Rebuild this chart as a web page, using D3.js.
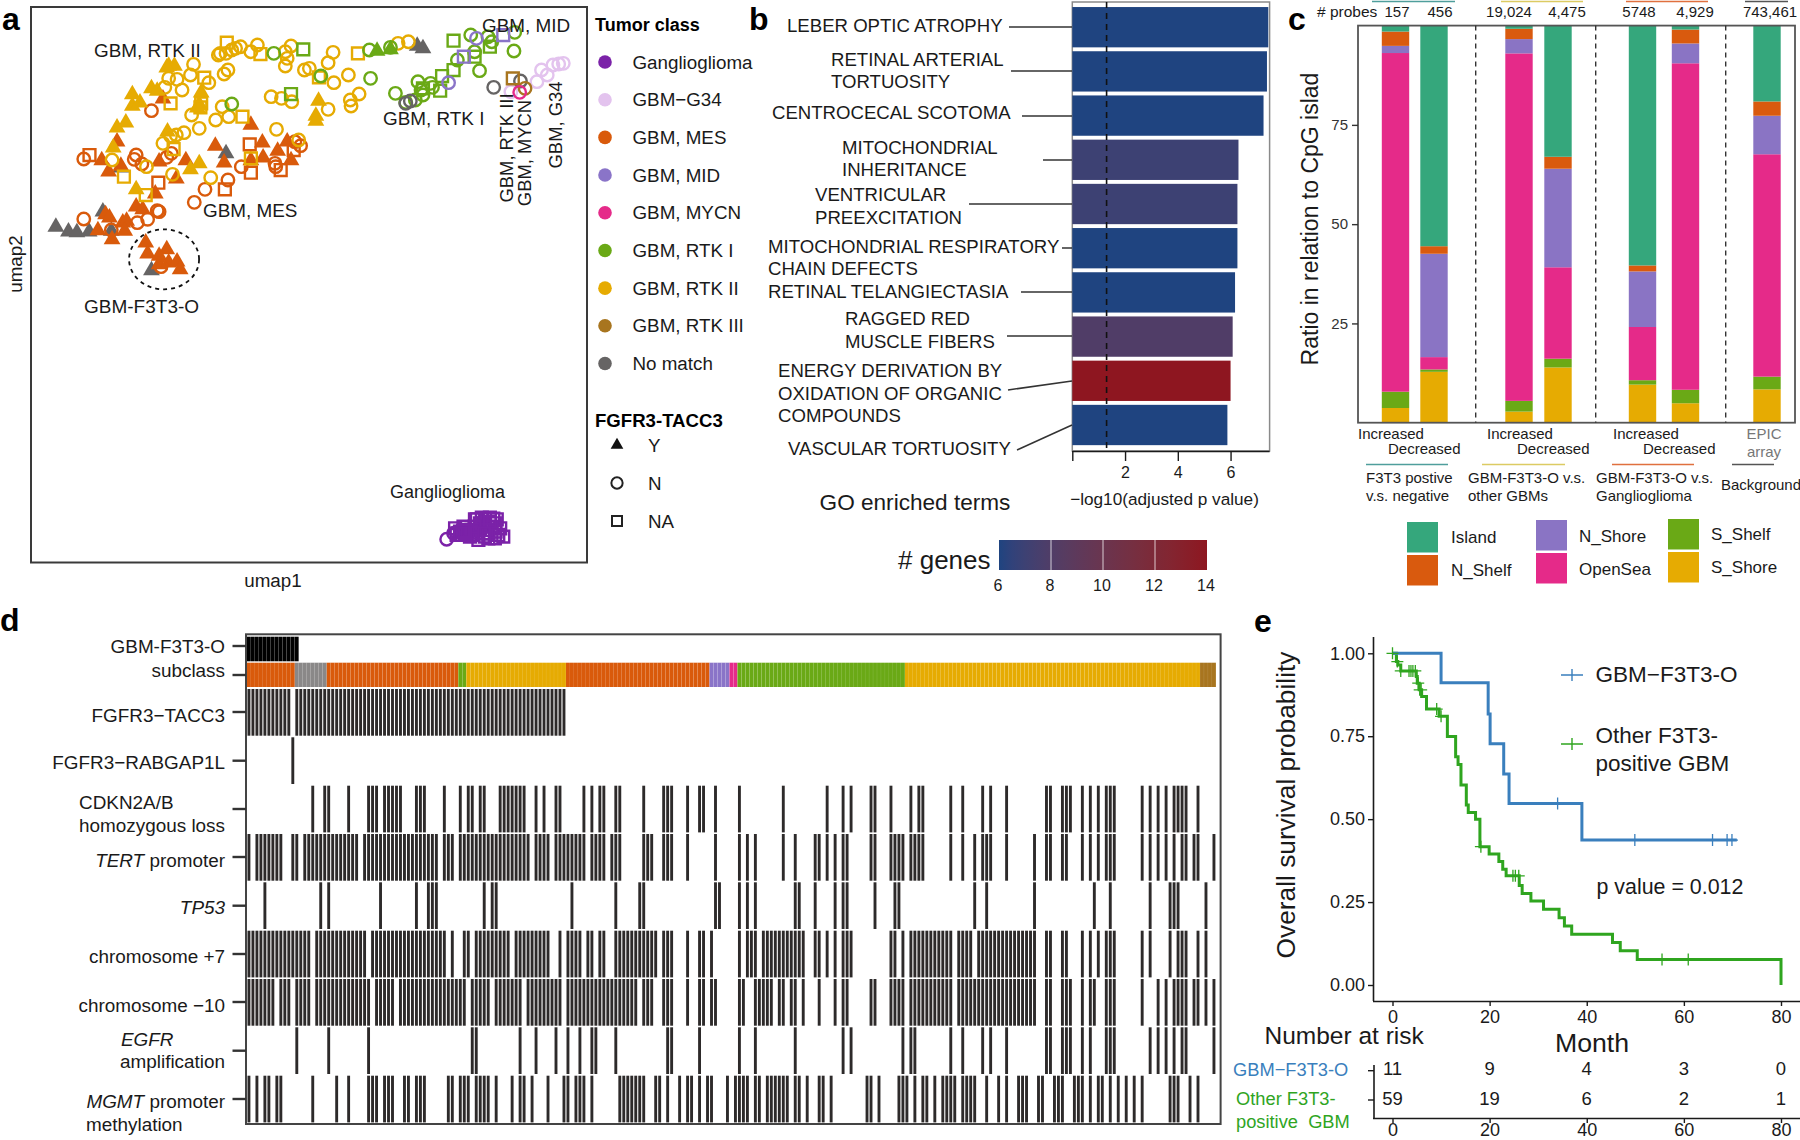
<!DOCTYPE html>
<html><head><meta charset="utf-8">
<style>html,body{margin:0;padding:0;background:#fff}svg{display:block}text{font-family:"Liberation Sans",Arial,sans-serif;fill:#1a1a1a}</style>
<script src="https://d3js.org/d3.v7.min.js"></script></head><body>
<svg id="c" width="1800" height="1140"></svg>
<script>
// ---------- DATA: panel a (umap values, arbitrary units) ----------
const tumorClasses=["Ganglioglioma","GBM−G34","GBM, MES","GBM, MID","GBM, MYCN","GBM, RTK I","GBM, RTK II","GBM, RTK III","No match"];
const fusionLevels=["Y","N","NA"];
const ggCircle=[[1167,1618],[1185,1600]];
const ggSquare=[[1189,1585],[1211,1580],[1232,1590],[1246,1558],[1267,1556],[1289,1556],[1293,1570],[1307,1585],[1254,1590],[1276,1600],[1315,1610],[1293,1615],[1267,1610],[1250,1620],[1228,1610],[1206,1605],[1193,1605],[1215,1590],[1237,1605],[1263,1570],[1285,1580],[1254,1570],[1202,1595],[1302,1605],[1276,1615],[1241,1558],[1280,1553],[1259,1553],[1298,1558],[1222,1598],[1245,1598],[1270,1590],[1295,1595],[1240,1580],[1215,1600],[1280,1565],[1265,1600],[1210,1593]];
const g34Circle=[[1335,275],[1403,245],[1415,210],[1430,225],[1445,195],[1460,192],[1472,190]];
const mesTri=[[305,422],[265,478],[283,512],[315,495],[415,482],[485,478],[460,533],[405,578],[355,617],[372,625],[562,435],[585,485],[655,372],[685,425],[687,470],[725,450],[750,422],[760,478],[655,478],[425,293],[275,640],[285,650],[255,688],[320,665],[330,660],[325,690],[292,715],[380,725],[385,758],[435,745],[415,765],[415,790],[440,785],[462,782],[470,805]];
const mesCircle=[[395,332],[218,477],[355,465],[350,478],[370,492],[447,460],[435,472],[630,500],[595,540],[535,568],[507,607],[718,490],[720,500],[770,425],[785,437],[410,632],[385,658],[358,668],[218,657],[290,690],[420,800],[415,635]];
const mesSquare=[[233,465],[413,548],[587,568],[652,433],[655,518],[733,510],[767,450]];
const midCircle=[[1245,115],[1172,248]];
const midSquare=[[1315,105],[1212,170]];
const mycnCircle=[[1358,277]];
const rtk1Tri=[[985,150],[1020,145]];
const rtk1Circle=[[715,160],[838,228],[605,312],[965,150],[968,235],[1020,142],[1230,105],[1275,110],[1285,125],[1345,97],[1343,153],[1253,212],[1240,155],[1195,180],[1033,280],[1092,245],[1125,250],[1130,262],[1100,270],[1085,300],[1105,285],[1060,307]];
const rtk1Square=[[792,148],[760,282],[1185,122],[1280,140],[1240,170],[1185,210],[1155,228],[1150,272],[1105,265]];
const rtk2Tri=[[440,195],[455,195],[435,200],[345,280],[395,262],[410,270],[345,315],[365,305],[305,380],[328,365],[295,440],[437,392],[520,310],[525,275],[515,320],[832,300],[825,345],[825,360],[520,487],[497,505],[355,565]];
const rtk2Circle=[[505,193],[497,225],[440,235],[462,238],[430,262],[475,270],[545,248],[585,222],[595,210],[570,165],[590,160],[605,150],[628,140],[672,135],[655,155],[745,155],[760,138],[750,175],[745,198],[795,210],[808,205],[857,188],[870,157],[872,248],[910,225],[938,282],[915,300],[917,318],[857,328],[708,290],[735,295],[762,305],[580,320],[500,345],[563,360],[597,350],[520,385],[722,388],[480,398],[460,405],[445,408],[425,430],[780,420],[292,480],[382,500],[450,523],[550,533],[1040,130],[1067,125],[575,160],[615,145]];
const rtk2Square=[[592,128],[680,162],[533,233],[833,232],[445,310],[525,310],[523,322],[633,350],[453,447],[655,475],[323,530],[380,585],[935,160]];
const rtk3Circle=[[1372,265]];
const rtk3Square=[[1340,235]];
const noneTri=[[1090,135],[1105,142],[590,457],[145,678],[178,692],[200,694],[232,692],[268,632],[290,690],[395,808],[315,500]];
const noneCircle=[[1060,310],[1072,303],[1290,262],[1360,243]];
const umapLabels=["GBM, RTK II","GBM, MID","GBM, RTK I","GBM, MES","GBM-F3T3-O","Ganglioglioma"];
const umapLabelsVertical=["GBM, RTK III","GBM, MYCN","GBM,  G34"];

// ---------- DATA: panel b ----------
const goTerms=[["LEBER OPTIC ATROPHY"],["RETINAL ARTERIAL","TORTUOSITY"],["CENTROCECAL SCOTOMA"],["MITOCHONDRIAL","INHERITANCE"],["VENTRICULAR","PREEXCITATION"],["MITOCHONDRIAL RESPIRATORY","CHAIN DEFECTS"],["RETINAL TELANGIECTASIA"],["RAGGED RED","MUSCLE FIBERS"],["ENERGY DERIVATION BY","OXIDATION OF ORGANIC","COMPOUNDS"],["VASCULAR TORTUOSITY"]];
const goLogP=[7.43,7.38,7.25,6.30,6.26,6.26,6.17,6.08,6.00,5.88];
const goGenes=[6,6,6,7,7,6,6,8,14,6];
const goThreshold=1.3;
const goTicks=[2,4,6];
const geneTicks=[6,8,10,12,14];

// ---------- DATA: panel c ----------
const regions=["Island","N_Shelf","N_Shore","OpenSea","S_Shelf","S_Shore"];
const probeBars=["F3T3 up","F3T3 down","Others up","Others down","Gang up","Gang down","EPIC"];
const probeCounts=["157","456","19,024","4,475","5748","4,929","743,461"];
const islandPct=[1.5,55.5,0.8,33,60.4,1,19.1];
const nShelfPct=[3.6,1.9,2.6,3,1.5,3.5,3.6];
const nShorePct=[1.8,26,3.6,24.8,14,5,9.7];
const openSeaPct=[85.2,3.1,87.6,23,13.4,82.3,56];
const sShelfPct=[4.1,0.6,2.7,2.2,1.1,3.4,3.2];
const sShorePct=[3.7,12.8,2.8,13.9,9.6,4.9,8.4];
const ratioTicks=[25,50,75];

// ---------- DATA: panel d (sample indices with runs) ----------
const sampleCount=243;
const subclassRuns=[["GBM, MES",0,11],["No match",12,19],["GBM, MES",20,52],["GBM, RTK I",53,54],["GBM, RTK II",55,79],["GBM, MES",80,115],["GBM, MID",116,120],["GBM, MYCN",121,122],["GBM, RTK I",123,164],["GBM, RTK II",165,238],["GBM, RTK III",239,242]];
const f3t3o=[[0,12]];
const tacc3=[[0,10],[12,79]];
const rabgap=[11];
const cdkn=[16,19,20,25,[30,32],[34,38],[42,44],49,53,55,56,58,59,[63,69],72,74,77,78,84,86,88,89,92,93,99,[104,106],110,113,114,117,123,134,145,149,151,156,157,161,166,168,169,176,179,184,186,190,200,201,[204,206],209,211,213,[215,217],224,226,228,230,[232,235],238];
const tert=[0,[2,8],11,12,[14,27],[29,47],[49,51],[53,70],[72,75],[77,84],[86,89],[91,93],[99,101],[104,106],110,117,123,125,127,134,137,142,143,145,147,149,150,156,157,[161,164],[166,169],176,179,182,[184,186],190,197,200,201,204,205,209,211,213,[215,217],224,226,228,230,232,234,235,237,238,242];
const tp53=[4,18,20,33,42,[45,47],59,61,62,81,92,98,99,117,118,123,125,127,137,138,142,147,149,150,157,162,163,182,185,197,212,216,226,[231,233],240];
const chr7=[[0,15],[17,29],[31,49],51,54,55,[57,65],[67,75],78,[80,83],85,86,88,89,[92,102],[104,106],110,113,114,116,123,[125,127],[129,139],142,143,145,147,[149,151],161,162,164,[166,176],[178,181],[183,197],200,201,204,205,209,211,213,[215,217],224,226,231,[233,235],238,240];
const chr10=[[0,6],[8,10],[12,15],[17,30],[32,36],[38,54],[56,60],[62,68],[70,78],[80,97],[99,101],[104,106],110,113,114,116,117,123,124,[127,131],133,134,136,137,139,143,147,149,150,156,157,[161,164],[166,176],[178,197],200,201,[204,206],209,211,212,[215,217],224,228,230,[232,235],237,238,240,242];
const egfr=[12,20,30,56,57,68,72,77,80,83,86,87,92,105,106,113,123,127,137,149,151,164,166,167,176,179,184,186,190,200,201,[204,206],209,211,[215,217],226,228,230,232,234,235,242];
const mgmt=[0,2,4,5,7,8,16,22,25,[30,32],[34,36],39,40,[42,44],50,51,53,54,55,[57,60],62,66,68,69,71,75,79,80,[82,84],86,[93,97],98,99,102,103,105,108,110,111,113,115,116,120,[122,125],127,128,[130,135],137,138,140,143,144,146,155,156,158,[163,165],167,169,170,172,[174,177],[179,182],185,188,190,[193,195],198,199,[202,204],[207,209],211,213,214,216,218,220,222,224,[231,233],236,238];
const oncoRows=[tacc3,rabgap,cdkn,tert,tp53,chr7,chr10,egfr,mgmt];

// ---------- DATA: panel e ----------
const f3t3oTime=[0,10,19.7,20.1,22.9,24,39,70.9];
const f3t3oSurv=[1,.911,.817,.727,.636,.547,.437,.437];
const f3t3oCensor=[34,49.9,65.9,68.9,69.9];
const otherTime=[0,0.8,1.1,1.7,4.9,5.1,5.5,6,7,9.6,11.3,13,13.5,14.1,15.2,15.6,17.1,18,19.9,21.9,22.7,23.4,26.1,26.7,28.5,31.1,34.3,35.4,36.9,45.3,46.9,50.4,80];
const otherSurv=[1,.975,.965,.947,.93,.91,.89,.87,.832,.81,.749,.688,.665,.603,.543,.52,.5,.417,.395,.372,.349,.329,.30,.276,.253,.228,.203,.178,.153,.128,.103,.077,0];
const otherCensor=[0,1,1.7,3.4,3.8,4.2,4.7,5.3,5.6,5.9,9.1,10,18.2,24.8,25.3,26,55.5,60.9];
const monthTicks=[0,20,40,60,80];
const survTicks=[0,.25,.5,.75,1];
const riskF3t3o=[11,9,4,3,0];
const riskOther=[59,19,6,2,1];

// ---------- helpers ----------
const svg=d3.select("#c");
const palette={"Ganglioglioma":"#7b22a8","GBM−G34":"#e3c3ee","GBM, MES":"#d95a0b","GBM, MID":"#8a74c8","GBM, MYCN":"#e52a89","GBM, RTK I":"#6aa916","GBM, RTK II":"#e6ab02","GBM, RTK III":"#a8751f","No match":"#666464"};
const regionColor=d3.scaleOrdinal(regions,["#35a77c","#d95a0e","#8a74c4","#e52a89","#6aa916","#e6ab02"]);
function txt(x,y,s,o={}){
  const t=svg.append("text").attr("x",x).attr("y",y).attr("dy",".35em")
    .style("font-size",(o.size||18)+"px").attr("text-anchor",o.anchor||"start");
  if(o.weight)t.style("font-weight",o.weight);
  if(o.fill)t.style("fill",o.fill);
  if(o.rotate!=null)t.attr("transform",`rotate(${o.rotate} ${x} ${y})`);
  if(Array.isArray(s))s.forEach(p=>t.append("tspan").style("font-style",p[1]?"italic":"normal").text(p[0]));
  else t.text(s);
  return t;
}
function hline(x1,y1,x2,y2,c,w,dash){const l=svg.append("line").attr("x1",x1).attr("y1",y1).attr("x2",x2).attr("y2",y2).attr("stroke",c).attr("stroke-width",w);if(dash)l.attr("stroke-dasharray",dash);return l;}
function boxRect(x,y,w,h,c,sw){svg.append("rect").attr("x",x).attr("y",y).attr("width",w).attr("height",h).attr("fill","none").attr("stroke",c).attr("stroke-width",sw);}
function expand(list){const out=[];list.forEach(v=>{if(Array.isArray(v))out.push(...d3.range(v[0],v[1]+1));else out.push(v)});return out;}
function styleAxis(g,size,c){g.selectAll("text").style("font-size",size+"px").style("fill",c||"#1a1a1a");g.selectAll("line").attr("stroke",c||"#1a1a1a").attr("stroke-width",1.4);g.select(".domain").attr("stroke",c||"#1a1a1a").attr("stroke-width",1.6);}

// panel letters
[["a",2,18.5],["b",749,18.5],["c",1288,18.5],["d",0,620],["e",1254,621]].forEach(d=>txt(d[1],d[2],d[0],{size:32,weight:"bold",fill:"#000"}));

// ---------- Panel a ----------
const ux=d3.scaleLinear([80,1534],[31,587]), uy=d3.scaleLinear([20,1687],[6.7,562.3]);
const sym={Y:d3.symbol(d3.symbolTriangle,122)(),N:d3.symbol(d3.symbolCircle,122)(),NA:d3.symbol(d3.symbolSquare,140)()};
function drawPts(pts,cls,shape){
  svg.append("g").selectAll("path").data(pts).join("path").attr("d",sym[shape])
   .attr("transform",d=>`translate(${ux(d[0])},${uy(d[1])+(shape==="Y"?1:0)})`)
   .attr("fill",shape==="Y"?palette[cls]:"none").attr("stroke",shape==="Y"?"none":palette[cls]).attr("stroke-width",2.4);
}
[[ggSquare,"Ganglioglioma","NA"],[ggCircle,"Ganglioglioma","N"],[g34Circle,"GBM−G34","N"],[noneTri,"No match","Y"],[mesTri,"GBM, MES","Y"],[mesSquare,"GBM, MES","NA"],[mesCircle,"GBM, MES","N"],[rtk2Tri,"GBM, RTK II","Y"],[rtk2Square,"GBM, RTK II","NA"],[rtk2Circle,"GBM, RTK II","N"],[rtk1Tri,"GBM, RTK I","Y"],[rtk1Square,"GBM, RTK I","NA"],[rtk1Circle,"GBM, RTK I","N"],[midSquare,"GBM, MID","NA"],[midCircle,"GBM, MID","N"],[noneCircle,"No match","N"],[rtk3Square,"GBM, RTK III","NA"],[rtk3Circle,"GBM, RTK III","N"],[mycnCircle,"GBM, MYCN","N"]].forEach(a=>drawPts(a[0],a[1],a[2]));
boxRect(31,7,556,555.5,"#3a3a3a",2);
svg.append("ellipse").attr("cx",ux(428)).attr("cy",uy(778)).attr("rx",35).attr("ry",30).attr("fill","none").attr("stroke","#111").attr("stroke-width",1.8).attr("stroke-dasharray","4 4");
const umapLabelPos=[[94,50],[482,25],[383,118],[203,210],[84,306],[390,492]];
const umapLabelSize=[18.9,18.9,18.9,18.9,19,18];
umapLabels.forEach((s,i)=>txt(umapLabelPos[i][0],umapLabelPos[i][1],s,{size:umapLabelSize[i]}));
const umapVertPos=[[507,148],[525,153],[556,125]];
umapLabelsVertical.forEach((s,i)=>txt(umapVertPos[i][0],umapVertPos[i][1],s,{size:18.4,anchor:"middle",rotate:-90}));
txt(273,580,"umap1",{size:18.8,anchor:"middle"});
txt(15,264,"umap2",{size:18.8,anchor:"middle",rotate:-90});
// legend
txt(595,25,"Tumor class",{size:18,weight:"bold",fill:"#000"});
const legY=d3.scalePoint(tumorClasses,[62,363.5]);
svg.append("g").selectAll("circle").data(tumorClasses).join("circle").attr("cx",605).attr("cy",d=>legY(d)).attr("r",6.8).attr("fill",d=>palette[d]);
tumorClasses.forEach(c=>txt(632.5,legY(c),c,{size:18.8}));
txt(595,420,"FGFR3-TACC3",{size:18.6,weight:"bold",fill:"#000"});
const fusY=d3.scalePoint(fusionLevels,[445,521]);
fusionLevels.forEach(l=>{
  svg.append("path").attr("d",d3.symbol(l==="Y"?d3.symbolTriangle:l==="N"?d3.symbolCircle:d3.symbolSquare,l==="Y"?70:100)())
   .attr("transform",`translate(617,${fusY(l)})`).attr("fill",l==="Y"?"#111":"none").attr("stroke",l==="Y"?"none":"#222").attr("stroke-width",2);
  txt(648,fusY(l),l,{size:18.8});
});

// ---------- Panel b ----------
const bx=d3.scaleLinear([0,7.48],[1072.3,1269.6]);
const by=d3.scaleBand(d3.range(goTerms.length),[5.1,447.1]).paddingInner(.088).paddingOuter(.044);
const geneColor=d3.scaleLinear([6,14],["#1f4480","#8e1620"]).interpolate(d3.interpolateLab);
svg.append("rect").attr("x",1072.3).attr("y",2).attr("width",197.3).attr("height",449).attr("fill","none").attr("stroke","#8a8a8a").attr("stroke-width",1.5);
svg.append("g").selectAll("rect").data(goLogP).join("rect").attr("x",bx(0)).attr("y",(d,i)=>by(i)).attr("width",d=>bx(d)-bx(0)).attr("height",by.bandwidth()).attr("fill",(d,i)=>geneColor(goGenes[i]));
hline(bx(goThreshold),2,bx(goThreshold),451,"#111",1.6,"6 5");
const baxis=svg.append("g").attr("transform","translate(0,451)").call(d3.axisBottom(bx).tickValues([0,...goTicks]).tickFormat(d=>d===0?"":d).tickSize(10).tickPadding(6));
baxis.select(".domain").attr("d","M1072.3,0.5H1269.6");styleAxis(baxis,16);
const goLayout=[[787,[25],[1009,27,1072,27]],[831,[59,81.5],[1011,71,1072,71]],[772,[112.5],[1022,116,1072,116]],[842,[147,169.5],[1043,160,1072,160]],[815,[194.5,217.5],[969,204,1072,204]],[768,[246.5,268.5],[1062,248,1072,248]],[768,[291.5],[1021,292,1072,292]],[845,[318.5,341.5],[1007,336,1072,336]],[778,[370.5,393.5],[1008,390,1072,381]],[788,[448.5],[1017,450,1072,425]]];
goLayout[8][1].push(415.5);
goTerms.forEach((lines,i)=>{const L=goLayout[i];lines.forEach((s,j)=>txt(L[0],L[1][j],s,{size:18.6}));hline(L[2][0],L[2][1],L[2][2],L[2][3],"#333",1.5);});
txt(915,502,"GO enriched terms",{size:22.6,anchor:"middle"});
txt(1164.5,499,"−log10(adjusted p value)",{size:17.2,anchor:"middle"});
txt(898,560,"# genes",{size:26});
const cb=d3.scaleLinear([6,14],[999,1207]);
const grad=svg.append("defs").append("linearGradient").attr("id","gg");
grad.selectAll("stop").data(d3.range(6,14.01,.5)).join("stop").attr("offset",d=>cb.copy().range([0,1])(d)).attr("stop-color",d=>geneColor(d));
svg.append("rect").attr("x",999).attr("y",540).attr("width",208).attr("height",30).attr("fill","url(#gg)");
const cbi=geneTicks.slice(1,-1);
svg.append("g").selectAll("line").data(cbi).join("line").attr("x1",d=>cb(d)).attr("x2",d=>cb(d)).attr("y1",540).attr("y2",570).attr("stroke","#fff").attr("stroke-width",1).attr("stroke-opacity",.75);
geneTicks.forEach(t=>txt(cb(t)-1,585,t,{size:16,anchor:"middle"}));

// ---------- Panel c ----------
const cy=d3.scaleLinear([0,100],[422.7,25.6]);
const cx=d3.scaleOrdinal(probeBars,[1395.5,1434,1519,1558,1642.5,1685.5,1767]);
const rows=probeBars.map((b,i)=>({bar:b,Island:islandPct[i],N_Shelf:nShelfPct[i],N_Shore:nShorePct[i],OpenSea:openSeaPct[i],S_Shelf:sShelfPct[i],S_Shore:sShorePct[i]}));
const stack=d3.stack().keys(regions.slice().reverse()).offset(d3.stackOffsetExpand)(rows);
svg.append("g").selectAll("g").data(stack).join("g").attr("fill",d=>regionColor(d.key))
  .selectAll("rect").data(d=>d).join("rect").attr("x",d=>cx(d.data.bar)-13.7).attr("width",27.4).attr("y",d=>cy(d[1]*100)).attr("height",d=>cy(d[0]*100)-cy(d[1]*100));
boxRect(1358,25.6,437,397.1,"#555",1.8);
[1475.7,1595.7,1725.7].forEach(x=>hline(x,25.6,x,422.7,"#333",1.4,"5 4"));
const caxis=svg.append("g").attr("transform","translate(1358,0)").call(d3.axisLeft(cy).tickValues(ratioTicks).tickSize(6).tickPadding(4));
caxis.select(".domain").remove();styleAxis(caxis,15,"#333");
txt(1310,219,"Ratio in relation to CpG islad",{size:23,anchor:"middle",rotate:-90});
txt(1317,12,"# probes",{size:15.5});
const probeLabelX=[1397,1440,1509,1567,1639,1695,1770];
probeCounts.forEach((s,i)=>txt(probeLabelX[i],12,s,{size:15,anchor:"middle"}));
[[1372,1455,"#4f9e9c"],[1501,1583,"#dccb63"],[1626,1708,"#e0703f"],[1745,1788,"#555"]].forEach(d=>hline(d[0],1.5,d[1],1.5,d[2],1.6));
[[1358,1388],[1487,1517],[1613,1643]].forEach(d=>{txt(d[0],434,"Increased",{size:15});txt(d[1],448.5,"Decreased",{size:15});});
txt(1764,434,"EPIC",{size:15,anchor:"middle",fill:"#777"});txt(1764,452,"array",{size:15,anchor:"middle",fill:"#777"});
[[1366,1448,"#4f9e9c"],[1482,1565,"#dccb63"],[1612,1694,"#e0703f"],[1732,1774,"#555"]].forEach(d=>hline(d[0],464.6,d[1],464.6,d[2],1.5));
[[1366,"F3T3 postive","v.s. negative"],[1468,"GBM-F3T3-O v.s.","other GBMs"],[1596,"GBM-F3T3-O v.s.","Ganglioglioma"]].forEach(d=>{txt(d[0],478,d[1],{size:15});txt(d[0],496,d[2],{size:15});});
txt(1721,485,"Background",{size:15});
const regLeg=[[1407,522,1451,537],[1407,555,1451,570],[1536,520,1579,536],[1536,553,1579,569],[1668,519,1711,534],[1668,552,1711,567]];
["Island","N_Shelf","N_Shore","OpenSea","S_Shelf","S_Shore"].forEach((r,i)=>{const L=regLeg[i];
  svg.append("rect").attr("x",L[0]).attr("y",L[1]).attr("width",31).attr("height",30.5).attr("fill",regionColor(r));
  txt(L[2],L[3],r,{size:17});});

// ---------- Panel d ----------
const sx=d3.scaleBand(d3.range(sampleCount),[247,1216]);
const dRowsY=[[636.7,24.6],[662.7,24.3],[689,46.7],[737.3,46.7],[785.7,46.7],[834,46.7],[882.3,46.7],[930.7,46.7],[979,46.7],[1027.3,46.7],[1075.7,46.7]];
svg.append("g").selectAll("rect").data(expand(f3t3o)).join("rect").attr("x",d=>sx(d)).attr("width",sx.bandwidth()-.2).attr("y",dRowsY[0][0]).attr("height",dRowsY[0][1]).attr("fill","#000");
const subSamples=subclassRuns.flatMap(r=>d3.range(r[1],r[2]+1).map(i=>({i,c:r[0]})));
svg.append("g").selectAll("rect").data(subSamples).join("rect").attr("x",d=>sx(d.i)).attr("width",sx.bandwidth()-.1).attr("y",dRowsY[1][0]).attr("height",dRowsY[1][1]).attr("fill",d=>d.c==="No match"?"#8a8888":palette[d.c]);
oncoRows.forEach((row,k)=>{const R=dRowsY[k+2];
  svg.append("g").selectAll("rect").data(expand(row)).join("rect").attr("x",d=>sx(d)+.5).attr("width",sx.bandwidth()-1.1).attr("y",R[0]).attr("height",R[1]).attr("fill","#2d2a2a");
});
boxRect(246,634.3,974.6,489.7,"#444",2);
const dTicks=[646,675,712,760.7,809,857,905.7,954,1002,1050.7,1099];
dTicks.forEach(y=>hline(232.5,y,246,y,"#333",2.4));
const dLab=[[646.7,"GBM-F3T3-O"],[670.7,"subclass"],[715.7,"FGFR3−TACC3"],[762.7,"FGFR3−RABGAP1L"],[825,"homozygous loss"],[860,[["TERT",1],[" promoter",0]]],[907.7,[["TP53",1]]],[956.7,"chromosome +7"],[1005,"chromosome −10"],[1061.7,"amplification"],[1101.7,[["MGMT",1],[" promoter",0]]]];
dLab.forEach(d=>txt(225,d[0],d[1],{size:18.9,anchor:"end"}));
txt(79,802,"CDKN2A/B",{size:18.9});
txt(121,1039,[["EGFR",1]],{size:18.9});
txt(86,1124,"methylation",{size:18.9});

// ---------- Panel e ----------
const ex=d3.scaleLinear([0,80],[1392.5,1781]), ey=d3.scaleLinear([0,1],[985,653.3]);
const survLine=(t,s)=>d3.line().curve(d3.curveStepAfter).x((d,i)=>ex(t[i])).y((d,i)=>ey(s[i]))(t);
function survAt(t,s,v){return s[Math.max(0,d3.bisectRight(t,v)-1)];}
const blue="#3a7fbd",green="#2fa51f";
svg.append("path").attr("d",survLine(otherTime,otherSurv)).attr("fill","none").attr("stroke",green).attr("stroke-width",3);
svg.append("path").attr("d",survLine(f3t3oTime,f3t3oSurv)).attr("fill","none").attr("stroke",blue).attr("stroke-width",3);
const cross=(x,y,r,v)=>`M${x-r},${y}H${x+r}M${x},${y-(v||r)}V${y+(v||r)}`;
svg.append("path").attr("d",f3t3oCensor.map(t=>cross(ex(t),ey(survAt(f3t3oTime,f3t3oSurv,t)),6)).join("")).attr("stroke",blue).attr("stroke-width",1.3).attr("fill","none");
svg.append("path").attr("d",otherCensor.map(t=>cross(ex(t),ey(survAt(otherTime,otherSurv,t)),6)).join("")).attr("stroke",green).attr("stroke-width",1.3).attr("fill","none");
const eyAxis=svg.append("g").attr("transform","translate(1373,0)").call(d3.axisLeft(ey).tickValues(survTicks).tickFormat(d3.format(".2f")).tickSize(5).tickPadding(3));
eyAxis.select(".domain").attr("d","M0.5,637V1001");styleAxis(eyAxis,18);
const exAxis=svg.append("g").attr("transform","translate(0,1001)").call(d3.axisBottom(ex).tickValues(monthTicks).tickSize(5).tickPadding(4));
exAxis.select(".domain").attr("d","M1373,0.5H1800");styleAxis(exAxis,18);
txt(1286,805,"Overall survival probability",{size:26.3,anchor:"middle",rotate:-90});
txt(1592,1042.7,"Month",{size:26.7,anchor:"middle"});
txt(1264.5,1035,"Number at risk",{size:24.5});
svg.append("path").attr("d",cross(1572,675,11,6)).attr("stroke",blue).attr("stroke-width",1.4).attr("fill","none");
svg.append("path").attr("d",cross(1572,744,11,6)).attr("stroke",green).attr("stroke-width",1.4).attr("fill","none");
txt(1595.5,674,"GBM−F3T3-O",{size:22.5});
txt(1595.5,735,"Other F3T3-",{size:22.5});
txt(1595.5,762.7,"positive GBM",{size:22.5});
txt(1596.5,886.7,"p value = 0.012",{size:21.4});
const riskY=d3.scalePoint(["F3T3-O","Other"],[1069,1099]);
monthTicks.forEach((m,i)=>{txt(ex(m),riskY("F3T3-O"),riskF3t3o[i],{size:18.5,anchor:"middle"});txt(ex(m),riskY("Other"),riskOther[i],{size:18.5,anchor:"middle"});});
const rxAxis=svg.append("g").attr("transform","translate(0,1118)").call(d3.axisBottom(ex).tickValues(monthTicks).tickSize(5).tickPadding(0));
rxAxis.select(".domain").attr("d","M1373,0.5H1800");styleAxis(rxAxis,18);
hline(1374,1065,1374,1119,"#1a1a1a",1.6);
hline(1368,1070.7,1374,1070.7,"#1a1a1a",1.4);hline(1368,1100,1374,1100,"#1a1a1a",1.4);
txt(1233,1070,"GBM−F3T3-O",{size:18.3,fill:blue});
txt(1236,1099,"Other F3T3-",{size:18.3,fill:green});
txt(1236,1121.7,"positive  GBM",{size:18.3,fill:green}).style("white-space","pre");
</script></body></html>
